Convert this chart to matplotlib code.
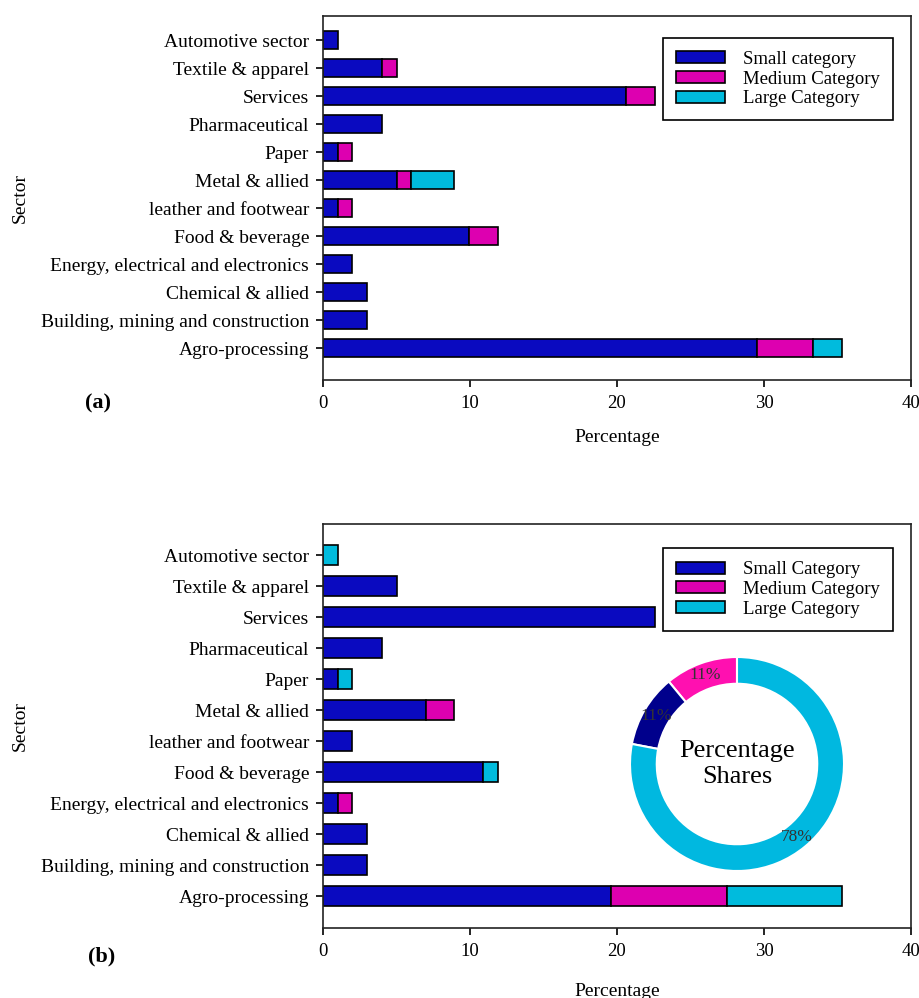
import matplotlib
matplotlib.use("Agg")
import matplotlib.pyplot as plt
import numpy as np

plt.rcParams['font.family'] = ['Liberation Serif', 'DejaVu Serif']

sectors = ["Agro-processing", "Building, mining and construction", "Chemical & allied",
           "Energy, electrical and electronics", "Food & beverage", "leather and footwear",
           "Metal & allied", "Paper", "Pharmaceutical", "Services", "Textile & apparel",
           "Automotive sector"]

# Panel (a)
a_small = [29.5, 3, 3, 2, 9.9, 1, 5, 1, 4, 20.6, 4, 1]
a_medium = [3.8, 0, 0, 0, 2, 1, 1, 1, 0, 2, 1, 0]
a_large = [2, 0, 0, 0, 0, 0, 2.9, 0, 0, 0, 0, 0]

# Panel (b)
b_small = [19.6, 3, 3, 1, 10.9, 2, 7, 1, 4, 22.6, 5, 0]
b_medium = [7.85, 0, 0, 1, 0, 0, 1.9, 0, 0, 0, 0, 0]
b_large = [7.85, 0, 0, 0, 1, 0, 0, 1, 0, 0, 0, 1]

# Donut shares (medium, small, large)
share_labels = ["Medium Category", "Small Category", "Large Category"]
share_values = [11, 11, 78]

xticks = [0, 10, 20, 30, 40]

C_SMALL = "#0A0AC0"
C_MED = "#DD00B0"
C_LARGE = "#00BBDD"

W, H = 920, 998
fig = plt.figure(figsize=(W / 100, H / 100), dpi=100)


def px_axes(l, t, r, b):
    return fig.add_axes([l / W, 1 - b / H, (r - l) / W, (b - t) / H])


def draw_panel(ax, small, medium, large, legend_labels, ylim, xlabelpad):
    y = np.arange(len(sectors))
    small = np.array(small)
    medium = np.array(medium)
    large = np.array(large)
    kw = dict(height=0.64, edgecolor="black", linewidth=1.2)
    h1 = ax.barh(y, small, color=C_SMALL, **kw)
    h2 = ax.barh(y, medium, left=small, color=C_MED, **kw)
    h3 = ax.barh(y, large, left=small + medium, color=C_LARGE, **kw)
    # hide zero-width segments
    for cont, vals in ((h1, small), (h2, medium), (h3, large)):
        for patch, v in zip(cont, vals):
            if v == 0:
                patch.set_visible(False)
    ax.set_xlim(0, 40)
    ax.set_ylim(*ylim)
    ax.set_xticks(xticks)
    ax.set_yticks(y)
    ax.set_yticklabels(sectors, fontsize=14)
    ax.tick_params(axis="x", labelsize=13.5, direction="out", length=5, pad=6, width=1.2)
    ax.tick_params(axis="y", direction="out", length=5, pad=5, width=1.2)
    for s in ax.spines.values():
        s.set_linewidth(1.2)
        s.set_color("#222222")
    ax.set_ylabel("Sector", fontsize=14, labelpad=10)
    ax.set_xlabel("Percentage", fontsize=14, labelpad=xlabelpad)
    leg = ax.legend([h1, h2, h3], legend_labels, loc="upper right",
                    bbox_to_anchor=(0.97, 0.94), fontsize=13.5, frameon=True,
                    fancybox=False, edgecolor="black", framealpha=1,
                    handlelength=2.6, handleheight=0.6, labelspacing=0.14,
                    borderpad=0.7, handletextpad=1.0, borderaxespad=0)
    leg.get_frame().set_linewidth(1.2)
    return ax


ax_a = px_axes(323, 16, 911, 380)
draw_panel(ax_a, a_small, a_medium, a_large,
           ["Small category", "Medium Category", "Large Category"], (-1.14, 11.86), 12)
ax_a.yaxis.set_label_coords(-0.50, 0.5)

ax_b = px_axes(323, 524, 911, 928)
draw_panel(ax_b, b_small, b_medium, b_large,
           ["Small Category", "Medium Category", "Large Category"], (-1.03, 12.0), 16)
ax_b.yaxis.set_label_coords(-0.50, 0.5)

fig.text(85 / W, 1 - 403 / H, "(a)", fontsize=16, fontweight="bold", ha="left", va="center")
fig.text(88 / W, 1 - 956 / H, "(b)", fontsize=16, fontweight="bold", ha="left", va="center")

# Donut of category shares
cx, cy, r = 737, 764, 107
ax_p = px_axes(cx - r, cy - r, cx + r, cy + r)
wedges, texts, autotexts = ax_p.pie(
    share_values, colors=["#FF10B0", "#00008C", "#00B8E0"], startangle=90,
    counterclock=True, radius=1.0, autopct="%d%%", pctdistance=0.88,
    wedgeprops=dict(width=0.25, edgecolor="white", linewidth=1.5),
    textprops=dict(fontsize=12.5, color="#333333"))
ax_p.set_xlim(-1, 1)
ax_p.set_ylim(-1, 1)
ax_p.set_aspect("equal")
ax_p.text(0, 0, "Percentage\nShares", ha="center", va="center", fontsize=19,
          linespacing=1.2)

fig.savefig("out.png", dpi=100)
